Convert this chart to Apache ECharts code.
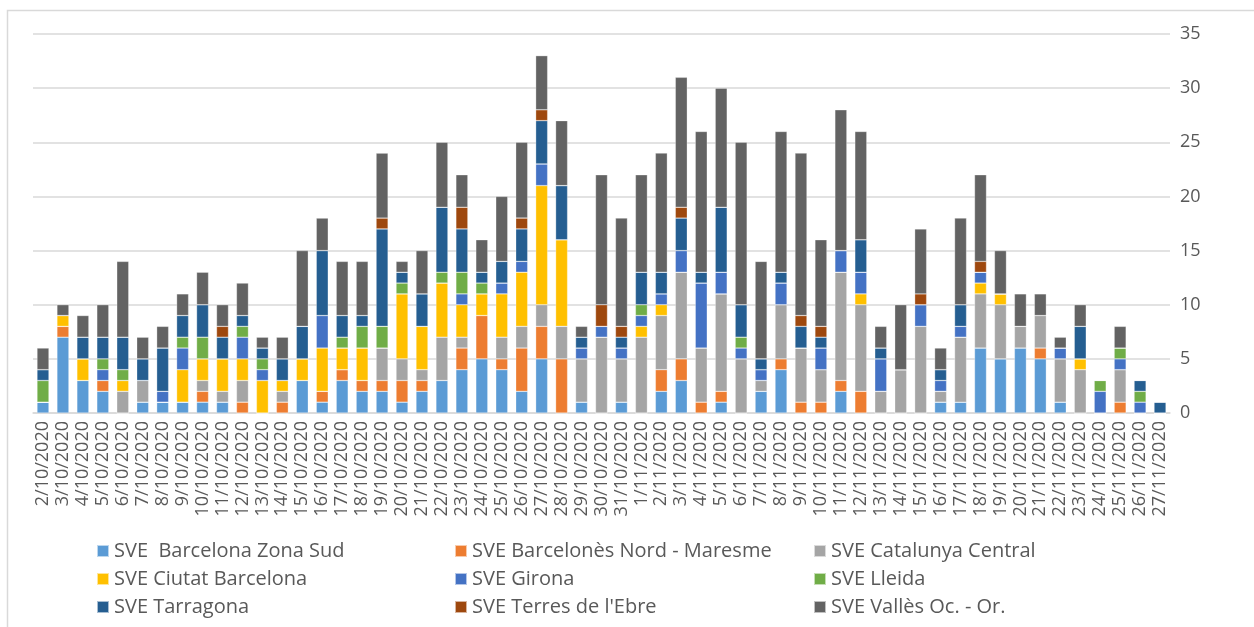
<!DOCTYPE html>
<html>
<head>
<meta charset="utf-8">
<script src="https://cdn.jsdelivr.net/npm/echarts@6/dist/echarts.min.js"></script>
<style>
  html, body { margin: 0; padding: 0; background: #fff; }
  #chart { width: 1254px; height: 627px; }
</style>
</head>
<body>
<div id="chart"></div>
<script>
var dates = ['2/10/2020','3/10/2020','4/10/2020','5/10/2020','6/10/2020','7/10/2020','8/10/2020','9/10/2020','10/10/2020','11/10/2020',
  '12/10/2020','13/10/2020','14/10/2020','15/10/2020','16/10/2020','17/10/2020','18/10/2020','19/10/2020','20/10/2020','21/10/2020',
  '22/10/2020','23/10/2020','24/10/2020','25/10/2020','26/10/2020','27/10/2020','28/10/2020','29/10/2020','30/10/2020','31/10/2020',
  '1/11/2020','2/11/2020','3/11/2020','4/11/2020','5/11/2020','6/11/2020','7/11/2020','8/11/2020','9/11/2020','10/11/2020',
  '11/11/2020','12/11/2020','13/11/2020','14/11/2020','15/11/2020','16/11/2020','17/11/2020','18/11/2020','19/11/2020','20/11/2020',
  '21/11/2020','22/11/2020','23/11/2020','24/11/2020','25/11/2020','26/11/2020','27/11/2020'];

// one array per SVE, in stacking order (bottom to top)
var zonaSud =    [1,7,3,2,0,1,1,1,1,1, 0,0,0,3,1,3,2,2,1,2, 3,4,5,4,2,5,0,1,0,1, 0,2,3,0,1,0,2,4,0,0, 2,0,0,0,0,1,1,6,5,6, 5,1,0,0,0,0,0];
var nordMaresme =[0,1,0,1,0,0,0,0,1,0, 1,0,1,0,1,1,1,1,2,1, 0,2,4,1,4,3,5,0,0,0, 0,2,2,1,1,0,0,1,1,1, 1,2,0,0,0,0,0,0,0,0, 1,0,0,0,1,0,0];
var catCentral = [0,0,0,0,2,2,0,0,1,1, 2,0,1,0,0,0,0,3,2,1, 4,1,0,2,2,2,3,4,7,4, 7,5,8,5,9,5,1,5,5,3, 10,8,2,4,8,1,6,5,5,2, 3,4,4,0,3,0,0];
var ciutatBcn =  [0,1,2,0,1,0,0,3,2,3, 2,3,1,2,4,2,3,0,6,4, 5,3,2,4,5,11,8,0,0,0, 1,1,0,0,0,0,0,0,0,0, 0,1,0,0,0,0,0,1,1,0, 0,0,1,0,0,0,0];
var girona =     [0,0,0,1,0,0,1,2,0,0, 2,1,0,0,3,0,0,0,0,0, 0,1,0,1,1,2,0,1,1,1, 1,1,2,6,2,1,1,2,0,2, 2,2,3,0,2,1,1,1,0,0, 0,1,0,2,1,1,0];
var lleida =     [2,0,0,1,1,0,0,1,2,0, 1,1,0,0,0,1,2,2,1,0, 1,2,1,0,0,0,0,0,0,0, 1,0,0,0,0,1,0,0,0,0, 0,0,0,0,0,0,0,0,0,0, 0,0,0,1,1,1,0];
var tarragona =  [1,0,2,2,3,2,4,2,3,2, 1,1,2,3,6,2,1,9,1,3, 6,4,1,2,3,4,5,1,0,1, 3,2,3,1,6,3,1,1,2,1, 0,3,1,0,0,1,2,0,0,0, 0,0,3,0,0,1,1];
var terresEbre = [0,0,0,0,0,0,0,0,0,1, 0,0,0,0,0,0,0,1,0,0, 0,2,0,0,1,1,0,0,2,1, 0,0,1,0,0,0,0,0,1,1, 0,0,0,0,1,0,0,1,0,0, 0,0,0,0,0,0,0];
var valles =     [2,1,2,3,7,2,2,2,3,2, 3,1,2,7,3,5,5,6,1,4, 6,3,3,6,7,5,6,1,12,10, 9,11,12,13,11,15,9,13,15,8, 13,10,2,6,6,2,8,8,4,3, 2,1,2,0,2,0,0];

var seriesNames = ['SVE  Barcelona Zona Sud', 'SVE Barcelonès Nord - Maresme', 'SVE Catalunya Central',
  'SVE Ciutat Barcelona', 'SVE Girona', 'SVE Lleida', 'SVE Tarragona', "SVE Terres de l'Ebre", 'SVE Vallès Oc. - Or.'];
var seriesData = [zonaSud, nordMaresme, catCentral, ciutatBcn, girona, lleida, tarragona, terresEbre, valles];
var colors = ['#5B9BD5', '#ED7D31', '#A5A5A5', '#FFC000', '#4472C4', '#70AD47', '#255E91', '#9E480E', '#636363'];
var yTicks = [0, 5, 10, 15, 20, 25, 30, 35];

var chart = echarts.init(document.getElementById('chart'));
var font = '"Open Sans", sans-serif';

function legendCol(names, left) {
  return {
    orient: 'vertical',
    left: left,
    top: 536,
    itemWidth: 12,
    itemHeight: 12,
    itemGap: 8,
    icon: 'rect',
    data: names,
    textStyle: { fontFamily: font, fontSize: 20, color: '#595959' }
  };
}

chart.setOption({
  animation: false,
  color: colors,
  textStyle: { fontFamily: font },
  graphic: [{
    type: 'rect',
    shape: { x: 7.5, y: 10.5, width: 1270, height: 650 },
    style: { fill: 'none', stroke: '#d9d9d9', lineWidth: 1.5 },
    silent: true
  }],
  legend: [
    legendCol([seriesNames[0], seriesNames[3], seriesNames[6]], 91),
    legendCol([seriesNames[1], seriesNames[4], seriesNames[7]], 449),
    legendCol([seriesNames[2], seriesNames[5], seriesNames[8]], 808)
  ],
  grid: { left: 33, right: 84, top: 34, bottom: 214 },
  xAxis: {
    type: 'category',
    data: dates,
    axisTick: { show: false },
    axisLine: { lineStyle: { color: '#d9d9d9', width: 1.5 } },
    axisLabel: { rotate: 90, interval: 0, fontSize: 18, color: '#595959', margin: 8, fontFamily: font }
  },
  yAxis: {
    type: 'value',
    position: 'right',
    min: yTicks[0],
    max: yTicks[yTicks.length - 1],
    interval: 5,
    axisLine: { show: false },
    axisTick: { show: false },
    splitLine: { lineStyle: { color: '#d9d9d9', width: 1.5 } },
    axisLabel: { fontSize: 18, color: '#595959', margin: 10, fontFamily: font }
  },
  series: seriesNames.map(function (name, i) {
    return {
      name: name,
      type: 'bar',
      stack: 'total',
      barWidth: '60%',
      data: seriesData[i],
      itemStyle: { borderColor: 'rgba(255,255,255,0.6)', borderWidth: 0.5 }
    };
  })
});
</script>
</body>
</html>
